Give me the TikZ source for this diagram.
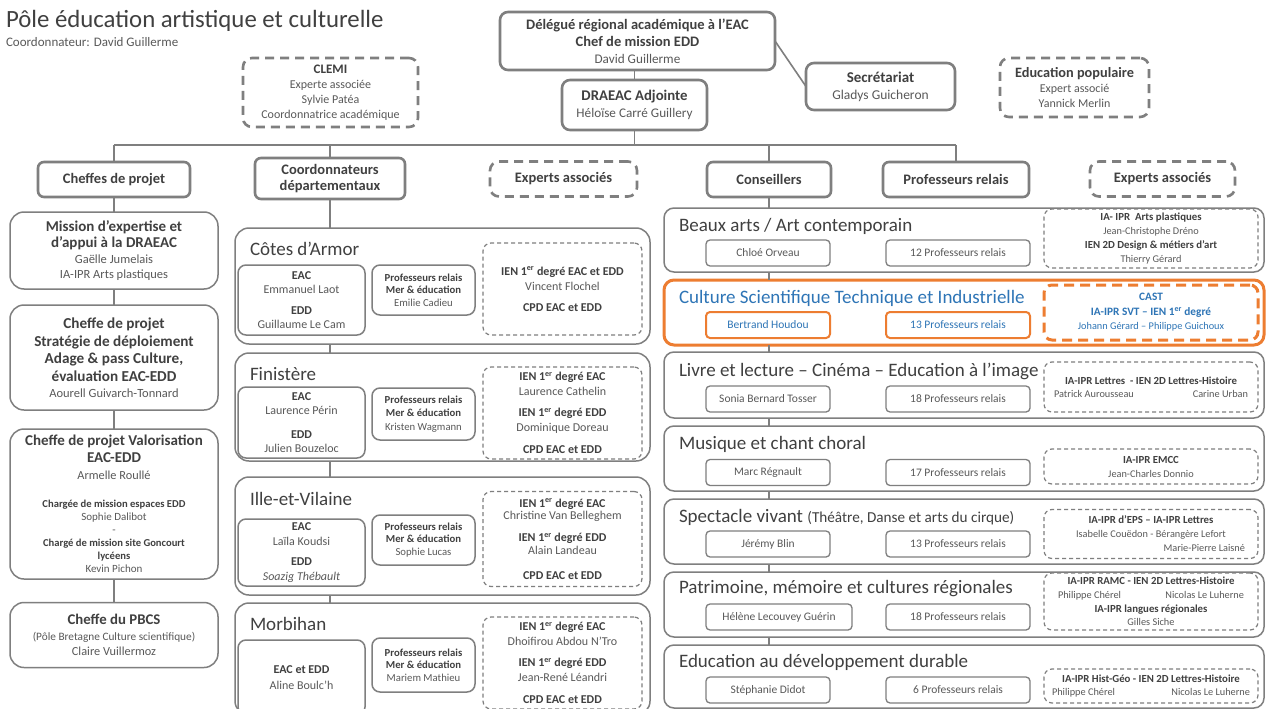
\documentclass[tikz,border=0pt]{standalone}
\usepackage{fontspec}
\setmainfont{Carlito}
\usetikzlibrary{positioning}

\definecolor{lgray}{HTML}{7F7F7F}
\definecolor{tdark}{HTML}{404040}
\definecolor{tmid}{HTML}{595959}
\definecolor{orangeb}{HTML}{ED7D31}
\definecolor{blueb}{HTML}{2E75B6}
\newcommand{\fs}[2]{\fontsize{#1}{#2}\selectfont}
\newcommand{\hd}[2]{{\color{tdark}\bfseries\fs{#1}{15}#2}}
\newcommand{\hb}[2]{{\bfseries\fs{#1}{15}#2}}

\begin{document}
\begin{tikzpicture}[x=1pt, y=-1pt,
  every node/.style = {inner sep=0pt, outer sep=0pt, align=center, text=tmid},
  boxed/.style = {draw=lgray, line width=1.5pt, rounded corners=#1},
  boxed/.default = 10pt,
  headbox/.style = {draw=lgray, line width=2.6pt, rounded corners=6pt,
    minimum height=35pt, text=tdark, font=\bfseries\fs{14.5}{16}},
  bigdash/.style = {draw=lgray, line width=2.6pt, dash pattern=on 9pt off 6pt,
    rounded corners=9pt},
  thindash/.style = {draw=lgray, line width=1.2pt, dash pattern=on 4pt off 3pt,
    rounded corners=8pt},
  theme/.style = {boxed=10pt, minimum width=600pt, minimum height=65pt},
  ttitle/.style = {anchor=west, font=\fs{19}{22}, text=tdark},
  namebox/.style = {boxed=4pt, line width=1.3pt, minimum height=26pt, font=\fs{11.5}{14}},
  exbox/.style = {thindash, minimum width=214pt, font=\fs{10.3}{14}},
  link/.style = {draw=lgray, line width=1.6pt}]
  \fill[white] (0,0) rectangle (1266,709);
  \useasboundingbox (0,0) rectangle (1266,709);

  % title
  \node[anchor=base west, font=\fs{24.8}{28}, text=tdark] (titre) at (6,28)
    {Pôle éducation artistique et culturelle};
  \node[anchor=base west, font=\fs{13}{15}] (coordo) at (6,47)
    {Coordonnateur: David Guillerme};

  % top of the chart
  \node[bigdash, minimum width=175pt, minimum height=69pt, font=\fs{12}{15}] (clemi) at (330.5,92.5)
    {\hd{13}{CLEMI}\\Experte associée\\Sylvie Patéa\\Coordonnatrice académique};
  \node[boxed=8pt, line width=2.6pt, minimum width=275pt, minimum height=58pt, font=\fs{13.2}{17}] (dele) at (637.5,41)
    {\hd{14.5}{Délégué régional académique à l’EAC}\\\hd{14.5}{Chef de mission EDD}\\David Guillerme};
  \node[boxed=8pt, line width=2.6pt, minimum width=145pt, minimum height=50pt, font=\fs{13.2}{17}] (drae) at (634.5,105)
    {\hd{14.8}{DRAEAC Adjointe}\\Héloïse Carré Guillery};
  \node[boxed=8pt, line width=2.6pt, minimum width=149pt, minimum height=47pt, font=\fs{13.5}{17}] (secr) at (880.5,86.5)
    {\hd{15}{Secrétariat}\\Gladys Guicheron};
  \node[bigdash, minimum width=149pt, minimum height=59pt, font=\fs{12}{15}] (edpop) at (1074.5,87.5)
    {\hd{14.3}{Education populaire}\\Expert associé\\Yannick Merlin};

  % header row
  \node[headbox, minimum width=152pt] (cp) at (114,179.5) {Cheffes de projet};
  \node[headbox, minimum width=150pt, minimum height=41pt] (coord) at (330,178.5) {Coordonnateurs\\départementaux};
  \node[headbox, bigdash, minimum width=147pt] (exp1) at (563.5,179) {Experts associés};
  \node[headbox, minimum width=124pt] (cons) at (769,179.5) {Conseillers};
  \node[headbox, minimum width=146pt] (prel) at (956,179.5) {Professeurs relais};
  \node[headbox, bigdash, minimum width=145pt] (exp2) at (1162.5,179) {Experts associés};

  \coordinate (bus) at (634.5,145);
  \draw[link] (drae.north) -- (drae.north |- dele.south);
  \draw[link] (dele.east) -- (secr.west);
  \draw[link] (drae.south) -- (bus);
  \draw[link] (cp.north |- bus) -- (prel.north |- bus);
  \draw[link] (cp.north) -- (cp.north |- bus);
  \draw[link] (coord.north) -- (coord.north |- bus);
  \draw[link] (cons.north) -- (cons.north |- bus);
  \draw[link] (prel.north) -- (prel.north |- bus);

  % cheffes de projet
  \node[boxed=14pt, minimum width=208pt, minimum height=77pt, font=\fs{12.5}{15}] (mission) at (114,250.5)
    {\hd{15}{Mission d’expertise et}\\[1pt]\hd{15}{d’appui à la DRAEAC}\\[1pt]Gaëlle Jumelais\\IA-IPR Arts plastiques};
  \node[boxed=14pt, minimum width=208pt, minimum height=105pt, font=\fs{13.5}{17.5}] (strategie) at (114,357.5)
    {\hd{15.2}{Cheffe de projet}\\\hd{15.2}{Stratégie de déploiement}\\\hd{15.2}{Adage \& pass Culture,}\\
     \hd{15.2}{évaluation EAC-EDD}\\[-1.5pt]{\fs{12.5}{15}Aourell Guivarch-Tonnard}};
  \node[boxed=14pt, minimum width=208pt, minimum height=150pt, font=\fs{11}{13}] (valo) at (114,504)
    {\hd{15}{Cheffe de projet Valorisation}\\[4pt]\hd{15}{EAC-EDD}\\[4pt]{\fs{12.3}{13}Armelle Roullé}\\[15pt]
     \hd{10.6}{Chargée de mission espaces EDD}\\Sophie Dalibot\\-\\\hd{10.6}{Chargé de mission site Goncourt}\\
     \hd{10.6}{lycéens}\\Kevin Pichon};
  \node[boxed=14pt, minimum width=208pt, minimum height=65pt, font=\fs{12.3}{15}] (pbcs) at (114,635)
    {\hd{14.8}{Cheffe du PBCS}\\[1pt]{\fs{11.3}{13}(Pôle Bretagne Culture scientifique)}\\Claire Vuillermoz};
  \draw[link] (cp.south) -- (mission.north);
  \draw[link] (mission.south) -- (strategie.north);
  \draw[link] (strategie.south) -- (valo.north);
  \draw[link] (valo.south) -- (pbcs.north);

  % Cotes d'Armor
  \node[boxed=14pt, minimum width=415pt, minimum height=116pt] (cotes) at (442.5,286) {};
  \node[ttitle] (cotesT) at (250,249) {Côtes d’Armor};
  \node[boxed=8pt, minimum width=127pt, minimum height=70pt, font=\fs{12}{14}] (cotesEAC) at (301.5,300)
    {\hd{12}{EAC}\\Emmanuel Laot\\[7pt]\hd{12}{EDD}\\Guillaume Le Cam};
  \node[boxed=8pt, minimum width=103pt, minimum height=50pt, font=\fs{10.7}{12.5}] (cotesPR) at (423.5,290)
    {\hd{10.7}{Professeurs relais}\\\hd{10.7}{Mer \& éducation}\\Emilie Cadieu};
  \node[thindash, minimum width=159pt, minimum height=92pt, font=\fs{12}{15}] (cotesIEN) at (562.5,289)
    {\hd{12}{IEN 1\textsuperscript{er} degré EAC et EDD}\\Vincent Flochel\\[6pt]\hd{12}{CPD EAC et EDD}};

  % Finistere
  \node[boxed=14pt, minimum width=415pt, minimum height=108pt] (finis) at (442.5,407) {};
  \node[ttitle] (finisT) at (250,374) {Finistère};
  \node[boxed=8pt, minimum width=127pt, minimum height=71pt, font=\fs{12}{14.5}] (finisEAC) at (301.5,422.5)
    {\hd{12}{EAC}\\Laurence Périn\\[9pt]\hd{12}{EDD}\\Julien Bouzeloc};
  \node[boxed=8pt, minimum width=103pt, minimum height=52pt, font=\fs{10.7}{13.5}] (finisPR) at (423.5,414)
    {\hd{10.7}{Professeurs relais}\\\hd{10.7}{Mer \& éducation}\\Kristen Wagmann};
  \node[thindash, minimum width=159pt, minimum height=92pt, font=\fs{12}{15}] (finisIEN) at (562.5,413)
    {\hd{12}{IEN 1\textsuperscript{er} degré EAC}\\Laurence Cathelin\\[6pt]\hd{12}{IEN 1\textsuperscript{er} degré EDD}\\
     Dominique Doreau\\[7pt]\hd{12}{CPD EAC et EDD}};

  % Ille-et-Vilaine
  \node[boxed=14pt, minimum width=415pt, minimum height=118pt] (ille) at (442.5,536) {};
  \node[ttitle] (illeT) at (250,499) {Ille-et-Vilaine};
  \node[boxed=8pt, minimum width=127pt, minimum height=67pt, font=\fs{12}{14.5}] (illeEAC) at (301.5,552.5)
    {\hd{12}{EAC}\\Laïla Koudsi\\[6pt]\hd{12}{EDD}\\\textit{Soazig Thébault}};
  \node[boxed=8pt, minimum width=103pt, minimum height=50pt, font=\fs{10.7}{12.5}] (illePR) at (423.5,540)
    {\hd{10.7}{Professeurs relais}\\\hd{10.7}{Mer \& éducation}\\Sophie Lucas};
  \node[thindash, minimum width=159pt, minimum height=95pt, font=\fs{12}{12.5}] (illeIEN) at (562.5,539)
    {\hd{12}{IEN 1\textsuperscript{er} degré EAC}\\Christine Van Belleghem\\[9.5pt]\hd{12}{IEN 1\textsuperscript{er} degré EDD}\\
     Alain Landeau\\[12.5pt]\hd{12}{CPD EAC et EDD}};

  % Morbihan
  \node[boxed=14pt, minimum width=415pt, minimum height=112pt] (morb) at (442.5,659) {};
  \node[ttitle] (morbT) at (250,624) {Morbihan};
  \node[boxed=8pt, minimum width=127pt, minimum height=75pt, font=\fs{12}{15.5}] (morbEAC) at (301.5,677.5)
    {\hd{12}{EAC et EDD}\\Aline Boulc’h};
  \node[boxed=8pt, minimum width=103pt, minimum height=54pt, font=\fs{10.7}{12.5}] (morbPR) at (423.5,665)
    {\hd{10.7}{Professeurs relais}\\\hd{10.7}{Mer \& éducation}\\Mariem Mathieu};
  \node[thindash, minimum width=159pt, minimum height=92pt, font=\fs{12}{15}] (morbIEN) at (562.5,663)
    {\hd{12}{IEN 1\textsuperscript{er} degré EAC}\\Dhoifirou Abdou N’Tro\\[6pt]\hd{12}{IEN 1\textsuperscript{er} degré EDD}\\
     Jean-René Léandri\\[7pt]\hd{12}{CPD EAC et EDD}};

  \draw[link] (coord.south) -- (coord.south |- cotes.north);
  \draw[link] (coord.south |- cotes.south) -- (coord.south |- finis.north);
  \draw[link] (coord.south |- finis.south) -- (coord.south |- ille.north);
  \draw[link] (coord.south |- ille.south) -- (coord.south |- morb.north);

  % conseillers: Beaux arts
  \node[theme, minimum height=64pt] (beaux) at (964,240) {};
  \node[ttitle] (beauxT) at (679,226) {Beaux arts / Art contemporain};
  \node[namebox, minimum width=124pt] (beauxN) at (768,253) {Chloé Orveau};
  \node[namebox, minimum width=144pt] (beauxP) at (958,253) {12 Professeurs relais};
  \node[exbox, minimum height=59pt] (beauxX) at (1151,238.5)
    {\hd{10.8}{IA- IPR~ Arts plastiques}\\Jean-Christophe Dréno\\\hd{10.8}{IEN 2D Design \& métiers d’art}\\Thierry Gérard};

  % CSTI
  \node[theme, draw=orangeb, line width=3pt] (csti) at (964,312.5) {};
  \node[ttitle, text=blueb] (cstiT) at (679,298) {Culture Scientifique Technique et Industrielle};
  \node[namebox, draw=orangeb, line width=2pt, text=blueb, minimum width=124pt] (cstiN) at (768,325) {Bertrand Houdou};
  \node[namebox, draw=orangeb, line width=2pt, text=blueb, minimum width=144pt] (cstiP) at (958,325) {13 Professeurs relais};
  \node[exbox, draw=orangeb, line width=3pt, dash pattern=on 10pt off 6pt, text=blueb, minimum height=55pt,
    font=\fs{10.3}{14.5}] (cstiX) at (1151,312.5)
    {\hb{11.3}{CAST}\\\hb{11.3}{IA-IPR SVT – IEN 1\textsuperscript{er} degré}\\Johann Gérard – Philippe Guichoux};

  % Livre et lecture
  \node[theme, minimum height=66pt] (livre) at (964,385) {};
  \node[ttitle] (livreT) at (679,371) {Livre et lecture – Cinéma – Education à l’image};
  \node[namebox, minimum width=124pt] (livreN) at (768,399) {Sonia Bernard Tosser};
  \node[namebox, minimum width=144pt] (livreP) at (958,399) {18 Professeurs relais};
  \node[exbox, minimum height=50pt, font=\fs{10.3}{13.5}] (livreX) at (1151,387)
    {\hd{10.8}{IA-IPR Lettres~ - IEN 2D Lettres-Histoire}\\\makebox[194pt]{Patrick Aurousseau\hfill Carine Urban}};

  % Musique
  \node[theme] (musique) at (964,458.5) {};
  \node[ttitle] (musiqueT) at (679,444) {Musique et chant choral};
  \node[namebox, minimum width=124pt] (musiqueN) at (768,472.5) {Marc Régnault};
  \node[namebox, minimum width=144pt] (musiqueP) at (958,472.5) {17 Professeurs relais};
  \node[exbox, minimum height=35pt] (musiqueX) at (1151,466.5)
    {\hd{10.8}{IA-IPR EMCC}\\Jean-Charles Donnio};

  % Spectacle vivant
  \node[theme] (spect) at (964,531.5) {};
  \node[ttitle] (spectT) at (679,517) {Spectacle vivant {\fs{15.2}{18}(Théâtre, Danse et arts du cirque)}};
  \node[namebox, minimum width=124pt] (spectN) at (768,544) {Jérémy Blin};
  \node[namebox, minimum width=144pt] (spectP) at (958,544) {13 Professeurs relais};
  \node[exbox, minimum height=49pt] (spectX) at (1151,534)
    {\hd{10.8}{IA-IPR d’EPS – IA-IPR Lettres}\\Isabelle Couëdon - Bérangère Lefort\\\makebox[188pt][r]{Marie-Pierre Laisné}};

  % Patrimoine
  \node[theme] (patri) at (964,604.5) {};
  \node[ttitle] (patriT) at (679,589) {Patrimoine, mémoire et cultures régionales};
  \node[namebox, minimum width=146pt] (patriN) at (779,617) {Hélène Lecouvey Guérin};
  \node[namebox, minimum width=144pt] (patriP) at (958,617) {18 Professeurs relais};
  \node[exbox, minimum height=57pt, font=\fs{10.3}{13.7}] (patriX) at (1151,601.5)
    {\hd{10.8}{IA-IPR RAMC - IEN 2D Lettres-Histoire}\\\makebox[186pt]{Philippe Chérel\hfill Nicolas Le Luherne}\\
     \hd{10.8}{IA-IPR langues régionales}\\Gilles Siche};

  % Education au developpement durable
  \node[theme, minimum height=63pt] (edd) at (964,676.5) {};
  \node[ttitle] (eddT) at (679,662) {Education au développement durable};
  \node[namebox, minimum width=124pt] (eddN) at (768,690) {Stéphanie Didot};
  \node[namebox, minimum width=144pt] (eddP) at (958,690) {6 Professeurs relais};
  \node[exbox, minimum height=34pt, font=\fs{10.3}{13.5}] (eddX) at (1151,686)
    {\hd{10.8}{IA-IPR Hist-Géo - IEN 2D Lettres-Histoire}\\\makebox[198pt]{Philippe Chérel\hfill Nicolas Le Luherne}};

  \draw[link] (cons.south) -- (cons.south |- beaux.north);
  \draw[link] (cons.south |- beaux.south) -- (cons.south |- csti.north);
  \draw[link] (cons.south |- csti.south) -- (cons.south |- livre.north);
  \draw[link] (cons.south |- livre.south) -- (cons.south |- musique.north);
  \draw[link] (cons.south |- musique.south) -- (cons.south |- spect.north);
  \draw[link] (cons.south |- spect.south) -- (cons.south |- patri.north);
  \draw[link] (cons.south |- patri.south) -- (cons.south |- edd.north);
\end{tikzpicture}
\end{document}
